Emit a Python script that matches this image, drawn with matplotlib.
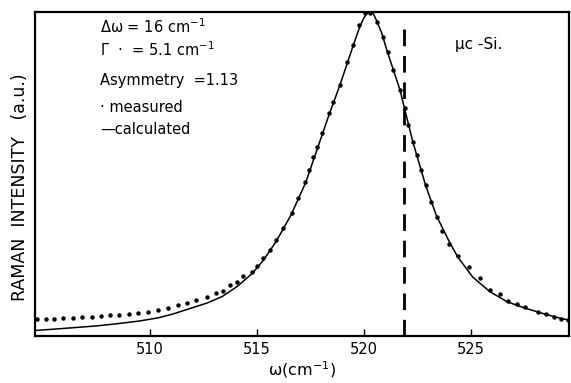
import matplotlib
matplotlib.use("Agg")
import matplotlib.pyplot as plt

# measured points (normalised intensity)
meas_x = [504.74, 505.16, 505.54, 505.96, 506.43, 506.85, 507.31, 507.73, 508.15, 508.57,
          509.04, 509.46, 509.93, 510.40, 510.86, 511.33, 511.75, 512.17, 512.69, 513.11,
          513.43, 513.76, 514.09, 514.37, 514.79, 515.02, 515.30, 515.63, 515.91, 516.24,
          516.66, 516.94, 517.27, 517.45, 517.64, 517.83, 518.06, 518.39, 518.57, 518.90,
          519.23, 519.51, 519.79, 520.07, 520.30, 520.63, 520.91, 521.15, 521.38, 521.71,
          521.93, 522.10, 522.31, 522.50, 522.69, 522.92, 523.15, 523.43, 523.67, 524.00,
          524.42, 524.93, 525.44, 525.91, 526.38, 526.76, 527.17, 527.55, 528.15, 528.53,
          528.90, 529.23, 529.56]
meas_y = [0.052, 0.053, 0.054, 0.055, 0.057, 0.058, 0.060, 0.062, 0.064, 0.065,
          0.067, 0.070, 0.075, 0.080, 0.086, 0.096, 0.102, 0.111, 0.120, 0.133,
          0.139, 0.157, 0.167, 0.185, 0.198, 0.216, 0.241, 0.265, 0.296, 0.333,
          0.380, 0.426, 0.475, 0.512, 0.552, 0.583, 0.627, 0.688, 0.722, 0.775,
          0.846, 0.898, 0.960, 0.997, 0.998, 0.969, 0.923, 0.877, 0.821, 0.759,
          0.704, 0.650, 0.599, 0.559, 0.512, 0.466, 0.414, 0.367, 0.324, 0.284,
          0.247, 0.213, 0.179, 0.142, 0.130, 0.108, 0.099, 0.090, 0.074, 0.068,
          0.059, 0.052, 0.049]

# calculated line
calc_x = [504.65, 505.5, 506.5, 507.5, 508.5, 509.5, 510.4, 511.1, 511.8, 512.7,
          513.4, 514.1, 514.8, 515.3, 515.9, 516.6, 517.3, 517.8, 518.4, 518.9,
          519.5, 519.8, 520.0, 520.15, 520.3, 520.45, 520.6, 520.85, 521.1, 521.7,
          522.3, 522.9, 523.4, 524.0, 524.4, 525.1, 525.9, 526.7, 527.5, 528.3,
          529.0, 529.6]
calc_y = [0.017, 0.021, 0.026, 0.031, 0.038, 0.046, 0.056, 0.068, 0.083, 0.102,
          0.122, 0.153, 0.193, 0.232, 0.290, 0.372, 0.474, 0.570, 0.685, 0.775,
          0.893, 0.950, 0.980, 0.995, 1.0, 0.995, 0.975, 0.935, 0.880, 0.760,
          0.600, 0.465, 0.372, 0.292, 0.244, 0.182, 0.137, 0.106, 0.087, 0.071,
          0.058, 0.049]

line_pos = 521.9
xticks = [510, 515, 520, 525]

notes = ["Δω = 16 cm$^{-1}$",
         "Γ  ·  = 5.1 cm$^{-1}$",
         "Asymmetry  =1.13",
         "· measured",
         "—calculated"]

fig = plt.figure(figsize=(5.71, 3.83), dpi=100)
ax = fig.add_axes([0.0613, 0.1227, 0.9352, 0.846])

ax.plot(calc_x, calc_y, color="black", lw=1.1)
ax.plot(meas_x, meas_y, ls="none", marker="o", ms=2.2, color="black")
ax.axvline(line_pos, ymin=0, ymax=0.97, color="black", lw=2, dashes=(6, 3.5))

ax.set_xlim(504.65, 529.6)
ax.set_ylim(0, 1.0)
ax.set_xticks(xticks)
ax.set_yticks([])
ax.tick_params(axis="x", direction="in", length=5, width=1, labelsize=10.5, pad=4)
for s in ax.spines.values():
    s.set_linewidth(1.6)

ax.set_xlabel("ω(cm$^{-1}$)", fontsize=11.5, labelpad=2)
ax.set_ylabel("RAMAN  INTENSITY   (a.u.)", fontsize=12.5)
ax.yaxis.label.set_va("center")
ax.yaxis.set_label_coords(-0.029, 0.46)

ypos = [27, 50, 80, 107, 130]
for t, yp in zip(notes, ypos):
    ax.text(100 / 571, 1 - yp / 383, t, transform=fig.transFigure,
            fontsize=10.5, va="center", ha="left")
ax.text(455 / 571, 1 - 45 / 383, "μc -Si.", transform=fig.transFigure,
        fontsize=11, va="center", ha="left")

fig.savefig("out.png", dpi=100)
